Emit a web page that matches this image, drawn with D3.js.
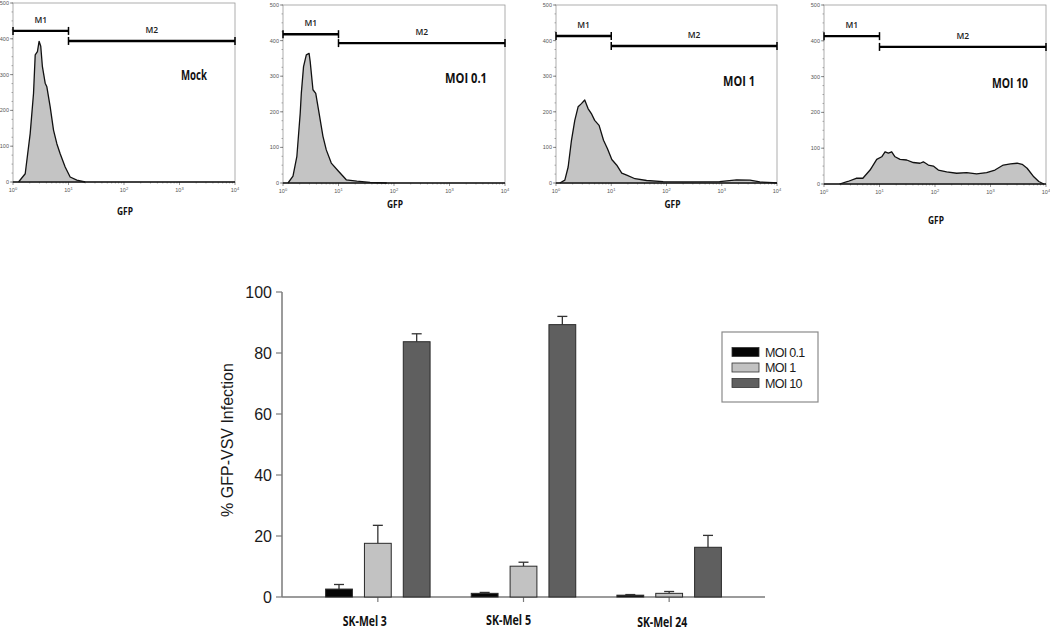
<!DOCTYPE html>
<html><head><meta charset="utf-8">
<script src="https://cdn.jsdelivr.net/npm/d3@7"></script>
<style>body{margin:0;background:#fff}svg{display:block}</style>
</head><body><svg id="c" width="1050" height="632"></svg>
<script>
// ---------------- DATA ----------------
const panelLabels = ["Mock", "MOI 0.1", "MOI 1", "MOI 10"];
const histYTicks = [0, 100, 200, 300, 400, 500];
const histXExps = [0, 1, 2, 3, 4];
const gateM1Level = [422, 418, 413, 413];
const gateM2Level = [394, 393, 385, 383];

// histogram traces: GFP position in decades (log10) and event counts
const mockLog   = [0.1,0.22,0.31,0.37,0.40,0.44,0.47,0.50,0.53,0.58,0.61,0.67,0.73,0.79,0.85,0.94,1.03,1.15,1.3];
const mockCount = [0,23,136,248,355,364,393,379,322,276,266,210,145,107,79,42,14,5,0];
const moi01Log   = [0.09,0.18,0.25,0.31,0.33,0.37,0.42,0.47,0.49,0.54,0.59,0.65,0.72,0.78,0.87,1.0,1.14,1.33,1.57,1.87];
const moi01Count = [0,19,75,196,252,327,360,364,341,262,252,196,131,93,56,33,9,5,2,0];
const moi1Log   = [0.07,0.16,0.22,0.28,0.34,0.40,0.46,0.52,0.58,0.64,0.70,0.78,0.86,0.93,1.01,1.10,1.19,1.28,1.43,1.64,1.94,2.36,2.96,3.27,3.51,3.69,3.93,4.0];
const moi1Count = [0,8,45,120,176,214,223,233,209,195,176,162,120,97,66,50,28,22,12,7,4,3,4,9,8,3,1,0];
const moi10Log   = [0.28,0.43,0.58,0.70,0.83,0.95,1.04,1.10,1.16,1.22,1.28,1.37,1.49,1.61,1.73,1.79,1.88,1.97,2.06,2.21,2.39,2.57,2.75,2.93,3.08,3.23,3.36,3.48,3.57,3.66,3.78,3.87,3.96];
const moi10Count = [0,7,16,16,39,69,76,90,86,90,76,69,67,60,58,62,53,50,39,34,30,32,28,32,39,53,56,58,55,44,20,7,0];

// bar chart
const categories = ["SK-Mel 3", "SK-Mel 5", "SK-Mel 24"];
const seriesNames = ["MOI 0.1", "MOI 1", "MOI 10"];
const moi01Vals = [2.6, 1.2, 0.6];
const moi01Err  = [1.5, 0.3, 0.2];
const moi1Vals  = [17.6, 10.1, 1.2];
const moi1Err   = [5.9, 1.3, 0.6];
const moi10Vals = [83.7, 89.3, 16.3];
const moi10Err  = [2.6, 2.7, 3.9];
const barYTicks = [0, 20, 40, 60, 80, 100];
const yTitle = "% GFP-VSV Infection";

// ---------------- LAYOUT ----------------
const svg = d3.select("#c");
const histLogs = [mockLog, moi01Log, moi1Log, moi10Log];
const histCounts = [mockCount, moi01Count, moi1Count, moi10Count];
const boxes = [
  {x0: 13, x1: 235, y0: 3, y1: 182, gfpY: 215, lab: [194, 80], labW: 26},
  {x0: 283, x1: 505, y0: 5, y1: 183, gfpY: 208, lab: [466, 83], labW: 42},
  {x0: 556, x1: 777, y0: 5, y1: 183, gfpY: 208, lab: [739, 86], labW: 32},
  {x0: 824, x1: 1046, y0: 5, y1: 184, gfpY: 224, lab: [1010, 88], labW: 36}
];
const fontCond = "'Open Sans', 'DejaVu Sans', sans-serif";

boxes.forEach((b, i) => {
  const g = svg.append("g");
  const x = d3.scaleLog().domain([1, 1e4]).range([b.x0, b.x1]);
  const y = d3.scaleLinear().domain([0, 500]).range([b.y1, b.y0]);

  // frame
  g.append("rect").attr("x", b.x0).attr("y", b.y0).attr("width", b.x1 - b.x0).attr("height", b.y1 - b.y0)
    .attr("fill", "none").attr("stroke", "#9a9a9a").attr("stroke-width", 0.8);

  // y ticks
  const yMinor = d3.range(0, 501, 25);
  g.selectAll(".ym").data(yMinor).join("line")
    .attr("x1", b.x0 - 1.5).attr("x2", b.x0).attr("y1", d => y(d)).attr("y2", d => y(d))
    .attr("stroke", "#777").attr("stroke-width", 0.6);
  g.selectAll(".yt").data(histYTicks).join("line")
    .attr("x1", b.x0 - 3).attr("x2", b.x0).attr("y1", d => y(d)).attr("y2", d => y(d))
    .attr("stroke", "#666").attr("stroke-width", 0.7);
  g.selectAll(".yl").data(histYTicks).join("text")
    .attr("x", b.x0 - 4).attr("y", d => y(d) + 2).attr("text-anchor", "end")
    .attr("font-size", 5.5).attr("font-family", "Liberation Sans, Arial, sans-serif").attr("fill", "#555")
    .text(d => d);

  // x ticks (log)
  const minor = [];
  for (let e = 0; e < 4; e++) for (let m = 2; m <= 9; m++) minor.push(m * Math.pow(10, e));
  g.selectAll(".xm").data(minor).join("line")
    .attr("x1", d => x(d)).attr("x2", d => x(d)).attr("y1", b.y1).attr("y2", b.y1 + 1.5)
    .attr("stroke", "#777").attr("stroke-width", 0.6);
  g.selectAll(".xt").data(histXExps).join("line")
    .attr("x1", d => x(Math.pow(10, d))).attr("x2", d => x(Math.pow(10, d))).attr("y1", b.y1).attr("y2", b.y1 + 3)
    .attr("stroke", "#666").attr("stroke-width", 0.7);
  const xl = g.selectAll(".xl").data(histXExps).join("text")
    .attr("x", d => x(Math.pow(10, d))).attr("y", b.y1 + 10).attr("text-anchor", "middle")
    .attr("font-size", 5.5).attr("font-family", "Liberation Sans, Arial, sans-serif").attr("fill", "#555");
  xl.append("tspan").text("10");
  xl.append("tspan").attr("font-size", 4).attr("dy", -2.5).text(d => d);

  // histogram
  const pts = histLogs[i].map((l, k) => [Math.pow(10, l), histCounts[i][k]]);
  const area = d3.area().x(d => x(d[0])).y0(y(0)).y1(d => y(d[1]));
  const line = d3.line().x(d => x(d[0])).y(d => y(d[1]));
  g.append("path").attr("d", area(pts)).attr("fill", "#c4c4c4");
  g.append("line").attr("x1", x(1)).attr("x2", x(1e4)).attr("y1", y(0)).attr("y2", y(0))
    .attr("stroke", "#111").attr("stroke-width", 1.3);
  g.append("path").attr("d", line(pts)).attr("fill", "none").attr("stroke", "#111").attr("stroke-width", 1.3)
    .attr("stroke-linejoin", "round");

  // gates
  const gates = [[1, 10, gateM1Level[i], "M1"], [10, 1e4, gateM2Level[i], "M2"]];
  gates.forEach(([a, c, lev, name]) => {
    const yy = y(lev);
    g.append("line").attr("x1", x(a)).attr("x2", x(c)).attr("y1", yy).attr("y2", yy)
      .attr("stroke", "#000").attr("stroke-width", 2.4);
    [a, c].forEach(v => g.append("line").attr("x1", x(v)).attr("x2", x(v)).attr("y1", yy - 4).attr("y2", yy + 4)
      .attr("stroke", "#000").attr("stroke-width", 1.5));
    g.append("text").attr("x", x(Math.sqrt(a * c))).attr("y", yy - 8).attr("text-anchor", "middle")
      .attr("font-size", 8.5).attr("font-weight", 600).attr("font-family", fontCond).attr("fill", "#222").text(name);
  });

  // panel label
  g.append("text").attr("x", b.lab[0]).attr("y", b.lab[1]).attr("text-anchor", "middle")
    .attr("font-size", 14).attr("font-weight", "bold").attr("font-family", fontCond).attr("fill", "#111")
    .attr("textLength", b.labW).attr("lengthAdjust", "spacingAndGlyphs").text(panelLabels[i]);

  // GFP
  g.append("text").attr("x", (b.x0 + b.x1) / 2 + (i === 2 ? 6 : 1)).attr("y", b.gfpY).attr("text-anchor", "middle")
    .attr("font-size", 10).attr("font-weight", "bold").attr("font-family", fontCond).attr("fill", "#111")
    .attr("textLength", 16).attr("lengthAdjust", "spacingAndGlyphs").text("GFP");
});

// ---------------- BAR CHART ----------------
const axisColor = "#7a7a7a";
const xb = d3.scaleBand().domain(categories).range([282, 765]).paddingInner(0).paddingOuter(0.158);
const xs = d3.scaleBand().domain(seriesNames).range([-xb.step() * 0.4, xb.step() * 0.4]).paddingInner(0.31).paddingOuter(0.155);
const yb = d3.scaleLinear().domain([0, 100]).range([597, 292]);
const colors = d3.scaleOrdinal().domain(seriesNames).range(["#050505", "#c2c2c2", "#5f5f5f"]);
const seriesVals = [moi01Vals, moi1Vals, moi10Vals];
const seriesErr = [moi01Err, moi1Err, moi10Err];

const bg = svg.append("g");
// axes
bg.append("line").attr("x1", 282).attr("x2", 282).attr("y1", yb(100)).attr("y2", yb(0))
  .attr("stroke", axisColor).attr("stroke-width", 1.5);
bg.append("line").attr("x1", 282).attr("x2", 765).attr("y1", yb(0)).attr("y2", yb(0))
  .attr("stroke", axisColor).attr("stroke-width", 1.5);
bg.selectAll(".byt").data(barYTicks).join("line")
  .attr("x1", 276).attr("x2", 282).attr("y1", d => yb(d)).attr("y2", d => yb(d))
  .attr("stroke", axisColor).attr("stroke-width", 1.2);
bg.selectAll(".byl").data(barYTicks).join("text")
  .attr("x", 272).attr("y", d => yb(d) + 5.5).attr("text-anchor", "end")
  .attr("font-size", 16).attr("font-family", "Liberation Sans, Arial, sans-serif").attr("fill", "#1a1a1a")
  .text(d => d);
bg.append("text").attr("transform", "translate(233,440) rotate(-90)").attr("text-anchor", "middle")
  .attr("font-size", 16).attr("font-family", "Liberation Sans, Arial, sans-serif").attr("fill", "#1a1a1a")
  .text(yTitle);

// category ticks and labels
const catShift = [-13, -15, -7];
const catBase = [626, 625, 627];
const catW = [44, 45, 50];
bg.selectAll(".bxt").data(categories).join("line")
  .attr("x1", d => xb(d) + xb.bandwidth() / 2).attr("x2", d => xb(d) + xb.bandwidth() / 2)
  .attr("y1", yb(0)).attr("y2", yb(0) + 5).attr("stroke", axisColor).attr("stroke-width", 1.2);
bg.selectAll(".bxl").data(categories).join("text")
  .attr("x", (d, i) => xb(d) + xb.bandwidth() / 2 + catShift[i]).attr("y", (d, i) => catBase[i])
  .attr("text-anchor", "middle").attr("font-size", 14).attr("font-weight", "bold")
  .attr("font-family", fontCond).attr("fill", "#111")
  .attr("textLength", (d, i) => catW[i]).attr("lengthAdjust", "spacingAndGlyphs")
  .text(d => d);

// bars
seriesNames.forEach((s, si) => {
  categories.forEach((c, ci) => {
    const v = seriesVals[si][ci], e = seriesErr[si][ci];
    const cx = xb(c) + xb.bandwidth() / 2 + xs(s);
    const w = xs.bandwidth();
    const mid = cx + w / 2;
    // error bar
    bg.append("line").attr("x1", mid).attr("x2", mid).attr("y1", yb(v)).attr("y2", yb(v + e))
      .attr("stroke", "#333").attr("stroke-width", 1.3);
    bg.append("line").attr("x1", mid - 5).attr("x2", mid + 5).attr("y1", yb(v + e)).attr("y2", yb(v + e))
      .attr("stroke", "#333").attr("stroke-width", 1.3);
    bg.append("rect").attr("x", cx).attr("y", yb(v)).attr("width", w).attr("height", yb(0) - yb(v))
      .attr("fill", colors(s)).attr("stroke", "#2a2a2a").attr("stroke-width", 1);
  });
});

// legend
const lg = svg.append("g");
lg.append("rect").attr("x", 722).attr("y", 332).attr("width", 96).attr("height", 70)
  .attr("fill", "#fff").attr("stroke", "#8a8a8a").attr("stroke-width", 1.2);
seriesNames.forEach((s, i) => {
  const cy = 352 + i * 15.5;
  lg.append("rect").attr("x", 732).attr("y", cy - 4.5).attr("width", 27).attr("height", 9)
    .attr("fill", colors(s)).attr("stroke", "#333").attr("stroke-width", 0.8);
  lg.append("text").attr("x", 765).attr("y", cy + 4.5).attr("font-size", 12.5)
    .attr("font-family", "Liberation Sans, Arial, sans-serif").attr("letter-spacing", -0.7)
    .attr("fill", "#1a1a1a").text(s);
});
</script></body></html>
